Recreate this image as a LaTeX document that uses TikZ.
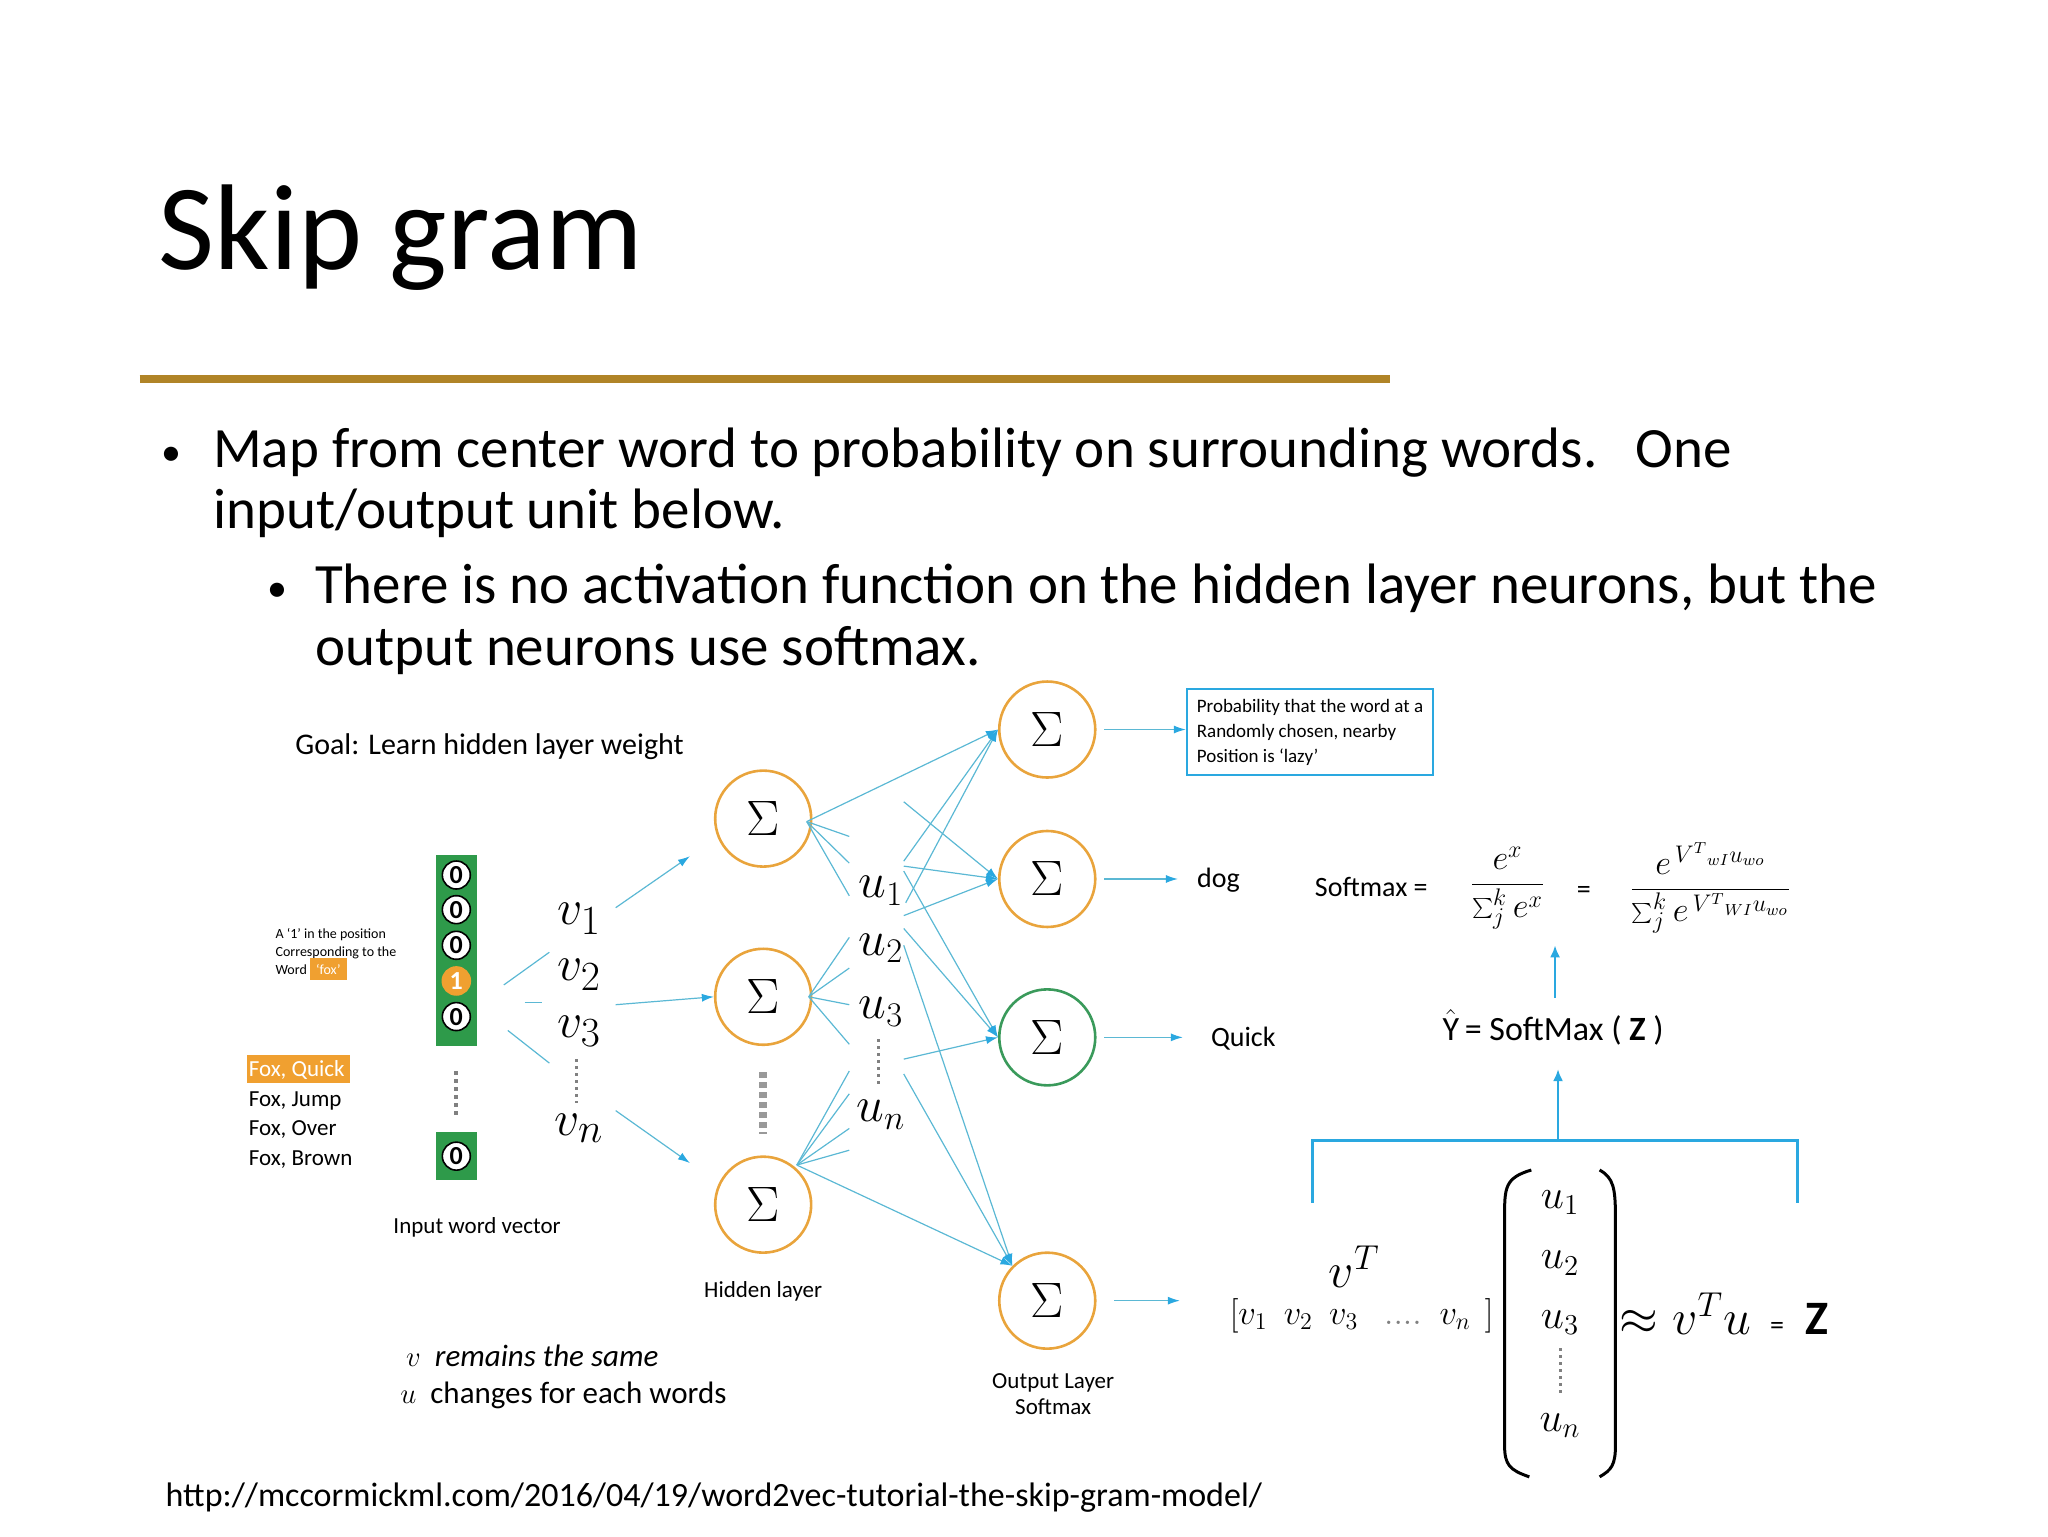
\documentclass[tikz,border=0pt]{standalone}
\usepackage{fontspec}
\setmainfont{Carlito}
\usetikzlibrary{arrows.meta}
\definecolor{gold}{HTML}{B08427}
\definecolor{cy}{HTML}{5BB8D4}
\definecolor{cya}{HTML}{2AA8E0}
\definecolor{org}{HTML}{E9A43C}
\definecolor{grn}{HTML}{3A9A5B}
\definecolor{gbox}{HTML}{2E9A4A}
\definecolor{hl}{HTML}{F0A030}
\tikzset{
 neuron/.style={circle,draw=org,line width=1.3pt,minimum size=48pt,inner sep=0pt,font=\fontsize{28}{28}\selectfont},
 con/.style={draw=cy,line width=0.6pt},
 arr/.style={draw=cy,line width=0.6pt,-{Latex[length=6pt,width=4pt,color=cya]}},
 txt/.style={anchor=base west,inner sep=0pt},
 bit/.style={circle,draw=black,fill=white,text=black,line width=0.8pt,minimum size=14pt,inner sep=0pt,font=\fontsize{13}{13}\selectfont\bfseries},
 var/.style={inner sep=0pt,font=\fontsize{28}{28}\selectfont},
 uvar/.style={inner sep=0pt,font=\fontsize{25}{25}\selectfont},
}
\begin{document}
\begin{tikzpicture}[x=0.495pt,y=-0.495pt]
\useasboundingbox (0,0) rectangle (2069,1552);
% title
\node[txt,font=\fontsize{61}{64}\selectfont] (title) at (160,272) {Skip gram};
\draw[gold,line width=4pt] (141,383) -- (1404,383);
% bullets
\node[txt,font=\fontsize{20}{30}\selectfont] (b1) at (163,470) {•};
\node[txt,font=\fontsize{28.5}{30}\selectfont] (t1) at (215,472) {Map from center word to probability on surrounding words.\ \ \ One};
\node[txt,font=\fontsize{28.5}{30}\selectfont] (t1b) at (215,534) {input/output unit below.};
\node[txt,font=\fontsize{20}{30}\selectfont] (b2) at (270,608) {•};
\node[txt,font=\fontsize{28.5}{30}\selectfont] (t2) at (318,610) {There is no activation function on the hidden layer neurons, but the};
\node[txt,font=\fontsize{28.5}{30}\selectfont] (t2b) at (318,672) {output neurons use softmax.};
% left texts
\node[txt,font=\fontsize{15}{16}\selectfont] (goal) at (298,762) {Goal: Learn hidden layer weight};
\node[txt,font=\fontsize{7}{8}\selectfont] (a1) at (278,948) {A `1' in the position};
\node[txt,font=\fontsize{7}{8}\selectfont] (a2) at (278,966) {Corresponding to the};
\node[txt,font=\fontsize{7}{8}\selectfont] (a3) at (278,984) {Word \colorbox{hl}{\color{white}`fox'}};
\fill[hl] (250,1066) rectangle (354,1094);
\node[txt,font=\fontsize{11.5}{12}\selectfont,text=white] (f1) at (251,1088) {Fox, Quick};
\node[txt,font=\fontsize{11.5}{12}\selectfont] (f2) at (251,1118) {Fox, Jump};
\node[txt,font=\fontsize{11.5}{12}\selectfont] (f3) at (251,1147) {Fox, Over};
\node[txt,font=\fontsize{11.5}{12}\selectfont] (f4) at (251,1177) {Fox, Brown};
% input vector
\fill[gbox] (440,864) rectangle (482,1057);
\node[bit] (i1) at (461,884) {0};
\node[bit] (i2) at (461,919) {0};
\node[bit] (i3) at (461,955) {0};
\node[bit,fill=hl,draw=hl,text=white] (i4) at (461,991) {1};
\node[bit] (i5) at (461,1027) {0};
\draw[gray,line width=2pt,dotted] (461,1082) -- (461,1128);
\fill[gbox] (440,1144) rectangle (482,1192);
\node[bit] (i6) at (461,1168) {0};
\node[font=\fontsize{11.5}{12}\selectfont] (ivec) at (482,1240) {Input word vector};
% v labels
\node[var] (v1) at (585,928) {$v_1$};
\node[var] (v2) at (585,985) {$v_2$};
\node[var] (v3) at (585,1042) {$v_3$};
\node[var] (vn) at (585,1140) {$v_n$};
\draw[gray,line width=1.5pt,dotted] (582,1070) -- (582,1114);
\coordinate (c1) at (509,995); \coordinate (c1e) at (555,962);
\coordinate (c2) at (530,1013); \coordinate (c2e) at (548,1013);
\coordinate (c3) at (513,1041); \coordinate (c3e) at (555,1074);
\draw[con] (c1) -- (c1e); \draw[con] (c2) -- (c2e); \draw[con] (c3) -- (c3e);
% hidden
\node[neuron] (h1) at (771,827) {$\Sigma$};
\node[neuron] (h2) at (771,1007) {$\Sigma$};
\node[neuron] (h3) at (771,1217) {$\Sigma$};
\draw[gray!80,line width=4pt,dash pattern=on 3pt off 2pt] (771,1083) -- (771,1146);
\node[font=\fontsize{11.5}{12}\selectfont] (hl) at (771,1305) {Hidden layer};
\coordinate (v1a) at (622,917); \coordinate (v2a) at (622,1015); \coordinate (vna) at (622,1122);
\draw[arr] (v1a) -- (697,865);
\draw[arr] (v2a) -- (h2.west);
\draw[arr] (vna) -- (697,1175);
% u labels
\node[uvar] (u1) at (890,900) {$u_1$};
\node[uvar] (u2) at (890,958) {$u_2$};
\node[uvar] (u3) at (890,1022) {$u_3$};
\node[uvar] (un) at (890,1126) {$u_n$};
\draw[gray,line width=1.5pt,dotted] (888,1050) -- (888,1096);
% output
\node[neuron] (o1) at (1058,737) {$\Sigma$};
\node[neuron] (o2) at (1058,888) {$\Sigma$};
\node[neuron,draw=grn] (o3) at (1058,1048) {$\Sigma$};
\node[neuron] (o4) at (1058,1314) {$\Sigma$};
\node[font=\fontsize{11.5}{13}\selectfont,align=center] (ol) at (1064,1408) {Output Layer\\Softmax};
% hidden fan
\coordinate (h1e) at (815,830);
\coordinate (h2e) at (817,1007);
\coordinate (h3e) at (805,1177);
\foreach \y in {845,872,905} \draw[con] (h1e) -- (858,\y);
\foreach \y in {947,978,1015,1055} \draw[con] (h2e) -- (858,\y);
\foreach \y in {1082,1105,1140,1162} \draw[con] (h3e) -- (858,\y);
\draw[arr] (h1e) -- (o1.west);
\draw[arr] (h3e) -- (o4.north west);
% u to outputs
\draw[arr] (915,912) -- (o1.west);
\draw[arr] (913,810) -- (o2.west);
\draw[arr] (913,870) -- (o1.west);
\draw[arr] (913,875) -- (o2.west);
\draw[arr] (913,880) -- (o3.west);
\draw[arr] (913,925) -- (o2.west);
\draw[arr] (913,938) -- (o3.west);
\draw[arr] (913,955) -- (o4.north west);
\draw[arr] (913,1070) -- (o3.west);
\draw[arr] (913,1085) -- (o4.north west);
% output right arrows
\node[draw=cya,line width=1pt,align=left,inner sep=5pt,font=\fontsize{9.5}{12.5}\selectfont,anchor=north west] (prob) at (1198,695) {Probability that the word at a\\Randomly chosen, nearby\\Position is `lazy'};
\draw[arr] (o1.east) ++(8,0) -- (prob.west|-o1);
\node[txt,font=\fontsize{14}{14}\selectfont] (dog) at (1209,897) {dog};
\draw[arr] (o2.east) ++(8,0) -- (1190,888);
\node[txt,font=\fontsize{14}{14}\selectfont] (quick) at (1223,1057) {Quick};
\draw[arr] (o3.east) ++(8,0) -- (1195,1048);
\coordinate (o4r) at (1192,1314);
\draw[arr] (o4.east) ++(18,0) -- (o4r);
% softmax
\node[txt,font=\fontsize{14}{14}\selectfont] (sm) at (1328,906) {Softmax =};
\node[font=\fontsize{17}{17}\selectfont] (f1n) at (1523,897) {$\displaystyle\frac{e^x}{\sum_j^k e^x}$};
\node[font=\fontsize{14}{14}\selectfont] (eq) at (1600,902) {=};
\node[font=\fontsize{17}{17}\selectfont] (f2n) at (1728,897) {$\displaystyle\frac{e^{\,V^T{}_{wI}u_{wo}}}{\sum_j^k e^{\,V^T{}_{WI}u_{wo}}}$};
\node[font=\fontsize{17}{18}\selectfont] (yh) at (1569,1038) {$\hat{\mathrm{Y}}$\,= SoftMax ( \textbf{Z} )};
\draw[draw=cya,line width=1.3pt,-{Latex[length=6pt,width=5pt]}] (1571,1008) -- (1571,955);
\coordinate (brk) at (1574,1152);
\draw[draw=cya,line width=1.3pt,-{Latex[length=6pt,width=5pt]}] (brk) -- (1574,1080);
\draw[cya,line width=1.2pt] (1326,1215) -- (1326,1152) -- (1816,1152) -- (1816,1215);
% matrix
\node[font=\fontsize{24}{24}\selectfont] (vt) at (1368,1280) {$v^T$};
\node[txt,font=\fontsize{18}{18}\selectfont] (row) at (1242,1338) {$[v_1\ \ v_2\ \ v_3\ \ \mathrel{\color{gray}....}\ v_n\ \,]$};
\draw[line width=1.5pt] (1547,1182) .. controls (1520,1190) and (1520,1200) .. (1520,1230) -- (1520,1460) .. controls (1520,1480) and (1525,1485) .. (1545,1492);
\draw[line width=1.5pt] (1616,1182) .. controls (1630,1190) and (1632,1200) .. (1632,1230) -- (1632,1460) .. controls (1632,1480) and (1628,1485) .. (1616,1492);
\node[font=\fontsize{22}{22}\selectfont] (m1) at (1576,1215) {$u_1$};
\node[font=\fontsize{22}{22}\selectfont] (m2) at (1576,1276) {$u_2$};
\node[font=\fontsize{22}{22}\selectfont] (m3) at (1576,1336) {$u_3$};
\node[font=\fontsize{22}{22}\selectfont] (mn) at (1576,1440) {$u_n$};
\draw[gray,line width=1.5pt,dotted] (1576,1362) -- (1576,1410);
\node[txt,font=\fontsize{24}{24}\selectfont] (rhs) at (1636,1348) {$\approx v^T u\,$ {\fontsize{14}{14}\selectfont =} \ \textbf{Z}};
% notes
\node[txt,font=\fontsize{15.5}{16}\selectfont\itshape] (n1) at (410,1380) {$v$\ \ remains the same};
\node[txt,font=\fontsize{15.5}{16}\selectfont] (n2) at (404,1418) {$u$\ \ changes for each words};
% url
\node[txt,font=\fontsize{17}{20}\selectfont] (url) at (167,1522) {http://mccormickml.com/2016/04/19/word2vec-tutorial-the-skip-gram-model/};
\end{tikzpicture}
\end{document}
